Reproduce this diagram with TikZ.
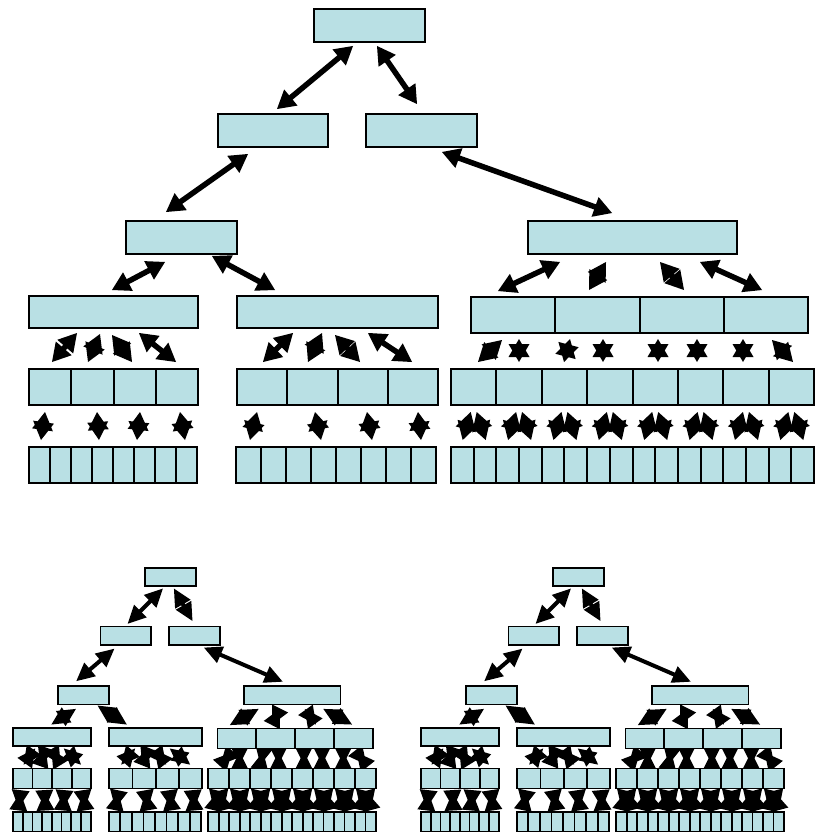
\documentclass[tikz,border=0pt]{standalone}
\definecolor{boxfill}{RGB}{185,224,228}
\tikzset{
  box/.style={draw=black, line width=\bw, fill=boxfill, inner sep=0pt, outer sep=0pt},
  shaft/.style={draw=black, line width=\aw},
  head/.style={fill=black}
}
\newcommand{\tpt}[2]{({\ox+((#1)-29)*\sx},{\oy+((#2)-9)*\sy})}
\newcommand{\tbox}[5]{\path \tpt{((#2)+(#4))/2}{((#3)+(#5))/2} node[box, minimum width={((#4)-(#2))*\sx}, minimum height={((#5)-(#3))*\sy}] (\T-#1) {};}
\newcommand{\trow}[6]{\foreach \i in {1,...,#6}{\pgfmathsetmacro\tca{#2+(\i-1)*((#4)-(#2))/#6}\pgfmathsetmacro\tcb{#2+\i*((#4)-(#2))/#6}\tbox{#1\i}{\tca}{#3}{\tcb}{#5}}}
% double-headed block arrow between two points (tree pixel coordinates)
\newcommand{\tarrow}[4]{%
 \pgfmathsetmacro\tAx{\ox+((#1)-29)*\sx}%
 \pgfmathsetmacro\tAy{\oy+((#2)-9)*\sy}%
 \pgfmathsetmacro\tBx{\ox+((#3)-29)*\sx}%
 \pgfmathsetmacro\tBy{\oy+((#4)-9)*\sy}%
 \pgfmathsetmacro\tL{veclen(\tBx-\tAx,\tBy-\tAy)}%
 \pgfmathsetmacro\tUx{(\tBx-\tAx)/\tL}%
 \pgfmathsetmacro\tUy{(\tBy-\tAy)/\tL}%
 \pgfmathtruncatemacro\tDoShaft{\tL>1.6*\hl ? 1 : 0}%
 \ifnum\tDoShaft=1
   \draw[shaft] ({\tAx+0.8*\hl*\tUx},{\tAy+0.8*\hl*\tUy}) -- ({\tBx-0.8*\hl*\tUx},{\tBy-0.8*\hl*\tUy});
 \fi
 \fill[head] (\tBx,\tBy) -- ({\tBx-\hl*\tUx-\hw*\tUy},{\tBy-\hl*\tUy+\hw*\tUx}) -- ({\tBx-\hl*\tUx+\hw*\tUy},{\tBy-\hl*\tUy-\hw*\tUx}) -- cycle;
 \fill[head] (\tAx,\tAy) -- ({\tAx+\hl*\tUx-\hw*\tUy},{\tAy+\hl*\tUy+\hw*\tUx}) -- ({\tAx+\hl*\tUx+\hw*\tUy},{\tAy+\hl*\tUy-\hw*\tUx}) -- cycle;
}
\newcommand{\drawtree}{%
 % level 1-2
 \tarrow{353}{46}{277}{109}
 \tarrow{377}{46}{417}{104}
 % level 2-3
 \tarrow{248}{154}{166}{212}
 \tarrow{442}{152}{612}{213}
 % level 3-4
 \tarrow{165}{262}{112}{290}
 \tarrow{212}{256}{275}{290}
 \tarrow{560}{262}{498}{291}
 \tarrow{606}{262}{589}{290}
 \tarrow{660}{262}{684}{290}
 \tarrow{700}{262}{762}{290}
 % level 4-5
 \tarrow{77}{333}{52}{362}
 \tarrow{100}{334}{88}{362}
 \tarrow{112}{335}{132}{362}
 \tarrow{139}{333}{176}{362}
 \tarrow{293}{333}{263}{362}
 \tarrow{322}{333}{308}{362}
 \tarrow{335}{335}{360}{362}
 \tarrow{368}{333}{412}{362}
 \tarrow{502}{340}{478}{362}
 \tarrow{519}{339}{519}{362}
 \tarrow{570}{339}{564}{362}
 \tarrow{603}{339}{603}{362}
 \tarrow{658}{339}{658}{362}
 \tarrow{697}{339}{697}{362}
 \tarrow{743}{339}{743}{362}
 \tarrow{772}{340}{793}{362}
 % level 5-6
 \tarrow{45}{412}{41}{440}
 \tarrow{97}{412}{99}{440}
 \tarrow{140}{412}{137}{440}
 \tarrow{180}{412}{185}{440}
 \tarrow{257}{412}{250}{440}
 \tarrow{315}{412}{321}{440}
 \tarrow{367}{412}{372}{440}
 \tarrow{418}{412}{421}{440}
 \foreach \c in {1,...,8}{%
   \pgfmathsetmacro\tcc{451+(\c-0.5)*45.375}%
   \tarrow{\tcc-3}{412}{\tcc-11}{440}%
   \tarrow{\tcc+3}{412}{\tcc+12}{440}%
 }%
 % boxes (drawn over the arrows)
 \tbox{root}{314}{9}{425}{42}
 \tbox{l2a}{218}{114}{328}{147}
 \tbox{l2b}{366}{114}{477}{147}
 \tbox{l3a}{126}{221}{237}{254}
 \tbox{l3b}{528}{221}{737}{254}
 \tbox{A}{29}{296}{198}{328}
 \tbox{B}{237}{296}{438}{328}
 \trow{C}{471}{297}{808}{333}{4}
 \trow{Ar}{29}{369}{198}{405}{4}
 \trow{Br}{237}{369}{438}{405}{4}
 \trow{Cr}{451}{369}{814}{405}{8}
 \trow{Ab}{29}{447}{197}{483}{8}
 \trow{Bb}{236}{447}{436}{483}{8}
 \trow{Cb}{451}{447}{814}{483}{16}
}
\begin{document}
\begin{tikzpicture}[x=1pt,y=-1pt]
\useasboundingbox (0,0) rectangle (823,832);
% large tree
\def\T{t}\def\ox{29}\def\oy{9}\def\sx{1}\def\sy{1}%
\def\aw{5.5pt}\def\hl{18}\def\hw{10.5}\def\bw{2pt}%
\drawtree
% small tree, left
\def\T{bl}\def\ox{13}\def\oy{568}\def\sx{0.4625}\def\sy{0.557}%
\def\aw{4pt}\def\hl{18}\def\hw{9}\def\bw{1.8pt}%
\drawtree
% small tree, right
\def\T{br}\def\ox{421}%
\drawtree
\end{tikzpicture}
\end{document}
